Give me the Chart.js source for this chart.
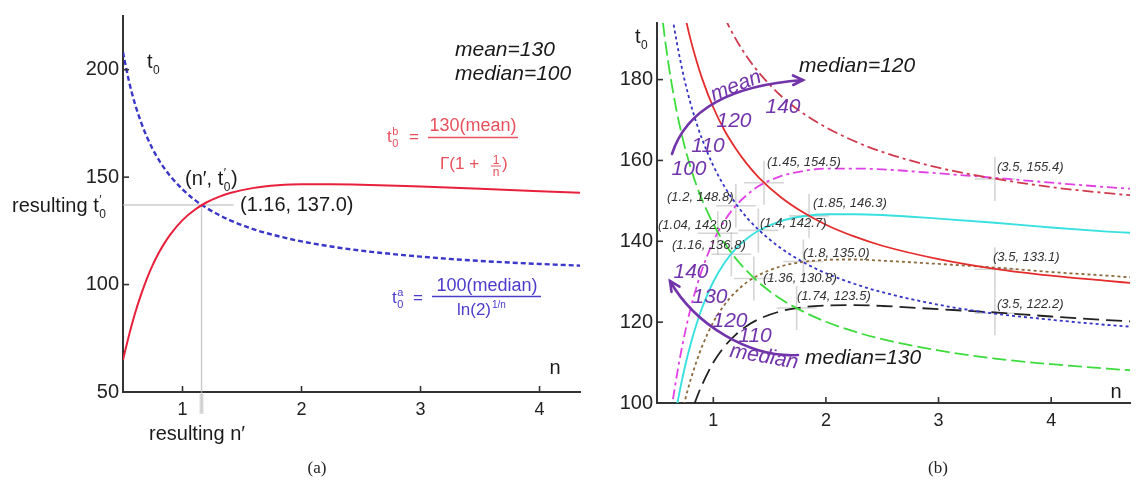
<!DOCTYPE html>
<html>
<head>
<meta charset="utf-8">
<script src="https://cdn.jsdelivr.net/npm/chart.js@4.4.1/dist/chart.umd.min.js"></script>
<style>
  html, body { margin: 0; padding: 0; background: #fff; }
  #wrap { position: relative; width: 1136px; height: 486px; background: #fff; }
  canvas { position: absolute; top: 0; }
  #chartA { left: 0; }
  #chartB { left: 600px; }
</style>
</head>
<body>
<div id="wrap">
  <canvas id="chartA" width="600" height="486"></canvas>
  <canvas id="chartB" width="536" height="486"></canvas>
</div>
<script>
// Shape parameter n at which every curve is sampled
const shapeN = [0.5, 0.55, 0.6, 0.65, 0.7, 0.75, 0.8, 0.85, 0.9, 1.0, 1.1, 1.2, 1.3, 1.4, 1.6, 1.8, 2.0, 2.25, 2.5, 3.0, 3.5, 4.0, 4.5, 4.7];

// Scale t0 fixed by a given median
const median100 = [208.1, 194.7, 184.2, 175.8, 168.8, 163.0, 158.1, 153.9, 150.3, 144.3, 139.5, 135.7, 132.6, 129.9, 125.7, 122.6, 120.1, 117.7, 115.8, 113.0, 111.0, 109.6, 108.5, 108.1];
const median110 = [229.0, 214.2, 202.6, 193.3, 185.7, 179.3, 173.9, 169.3, 165.3, 158.7, 153.5, 149.3, 145.8, 142.9, 138.3, 134.8, 132.1, 129.5, 127.4, 124.3, 122.1, 120.6, 119.3, 118.9];
const median120 = [249.8, 233.7, 221.0, 210.9, 202.6, 195.6, 189.7, 184.7, 180.3, 173.1, 167.4, 162.9, 159.1, 155.9, 150.9, 147.1, 144.1, 141.2, 138.9, 135.6, 133.2, 131.5, 130.2, 129.7];
const median140 = [291.4, 272.6, 257.9, 246.1, 236.3, 228.2, 221.4, 215.5, 210.4, 202.0, 195.4, 190.0, 185.6, 181.9, 176.0, 171.6, 168.2, 164.8, 162.1, 158.2, 155.5, 153.4, 151.9, 151.4];

// Scale t0 fixed by a given mean
const mean110 = [55.0, 64.6, 73.1, 80.5, 86.9, 92.4, 97.1, 101.1, 104.5, 110.0, 114.0, 116.9, 119.1, 120.7, 122.7, 123.7, 124.1, 124.2, 124.0, 123.2, 122.4, 121.4, 120.5, 120.2];
const mean120 = [60.0, 70.5, 79.7, 87.8, 94.8, 100.8, 105.9, 110.2, 114.0, 120.0, 124.3, 127.5, 129.9, 131.6, 133.8, 134.9, 135.4, 135.5, 135.2, 134.4, 133.5, 132.4, 131.5, 131.1];
const mean130 = [65.0, 76.3, 86.4, 95.1, 102.7, 109.2, 114.7, 119.4, 123.5, 130.0, 134.7, 138.2, 140.7, 142.6, 145.0, 146.2, 146.7, 146.7, 146.5, 145.6, 144.6, 143.4, 142.4, 142.1];
const mean140 = [70.0, 82.2, 93.0, 102.4, 110.6, 117.6, 123.6, 128.6, 133.0, 140.0, 145.1, 148.8, 151.5, 153.6, 156.1, 157.4, 158.0, 158.0, 157.8, 156.8, 155.7, 154.5, 153.4, 153.0];

// Axis ticks
const ticksNA = [1, 2, 3, 4];
const ticksTA = [50, 100, 150, 200];
const ticksNB = [1, 2, 3, 4];
const ticksTB = [100, 120, 140, 160, 180];

// Resulting (n', t0') for mean=130, median=100
const resultA = [1.16, 137.0];

// Crossings of mean and median curves in panel (b)
const crossingsB = [
  [1.2, 148.8], [1.45, 154.5], [1.85, 146.3], [1.04, 142.0], [1.4, 142.7], [1.16, 136.8],
  [1.8, 135.0], [1.36, 130.8], [1.74, 123.5], [3.5, 155.4], [3.5, 133.1], [3.5, 122.2]
];
// where each crossing label sits (left x, middle y, canvas pixels)
const crossLabelAt = [
  [67, 197], [167, 162], [213, 203], [58, 225], [160, 223], [72, 245],
  [203, 253], [163, 278], [197, 296], [397, 167], [393, 257], [397, 304]
];

const FAM = '"Liberation Sans", Arial, Helvetica, sans-serif';
const font = (size, italic) => (italic ? 'italic ' : '') + size + 'px ' + FAM;
const pts = vals => shapeN.map((n, i) => ({ x: n, y: vals[i] }));

function put(ctx, s, x, y, f, color, align, base) {
  ctx.font = f;
  ctx.fillStyle = color;
  ctx.textAlign = align || 'left';
  ctx.textBaseline = base || 'alphabetic';
  ctx.fillText(s, x, y);
  return ctx.measureText(s).width;
}

// "t" with stacked superscript / subscript
function tSym(ctx, x, y, size, sup, sub, color, italic) {
  const w = put(ctx, 't', x, y, font(size, italic), color);
  const small = Math.round(size * 0.62);
  let w2 = 0;
  if (sup) w2 = Math.max(w2, put(ctx, sup, x + w + 0.5, y - size * 0.42, font(small), color));
  if (sub) w2 = Math.max(w2, put(ctx, sub, x + w + 0.5, y + size * 0.28, font(small), color));
  return x + w + w2 + 1;
}

function hline(ctx, x1, x2, y, color, lw) {
  ctx.strokeStyle = color; ctx.lineWidth = lw;
  ctx.beginPath(); ctx.moveTo(x1, y); ctx.lineTo(x2, y); ctx.stroke();
}

// tick marks pointing into the plot
const inwardTicks = {
  id: 'inwardTicks',
  afterDraw(chart) {
    const { ctx, chartArea: ca, scales: { x, y } } = chart;
    ctx.save();
    ctx.strokeStyle = '#333'; ctx.lineWidth = 1.6;
    x.ticks.forEach(t => {
      const p = x.getPixelForValue(t.value);
      ctx.beginPath(); ctx.moveTo(p, ca.bottom); ctx.lineTo(p, ca.bottom - 6); ctx.stroke();
    });
    y.ticks.forEach(t => {
      const p = y.getPixelForValue(t.value);
      ctx.beginPath(); ctx.moveTo(ca.left, p); ctx.lineTo(ca.left + 6, p); ctx.stroke();
    });
    ctx.restore();
  }
};

function axisCfg(min, max, tickVals, fitSize, horizontal, tickSize, pad) {
  return {
    type: 'linear', min, max,
    grid: { display: false, drawTicks: false },
    border: { display: true, color: '#333', width: 2 },
    afterBuildTicks: s => { s.ticks = tickVals.map(v => ({ value: v })); },
    afterFit: s => { if (horizontal) s.height = fitSize; else s.width = fitSize; },
    ticks: { font: { family: FAM, size: tickSize }, color: '#222', padding: pad, maxRotation: 0, autoSkip: false }
  };
}

function line(data, color, width, dash) {
  return {
    data: pts(data), borderColor: color, borderWidth: width, borderDash: dash || [],
    pointRadius: 0, fill: false, cubicInterpolationMode: 'monotone'
  };
}

// ---------- panel (a) ----------
const annotA = {
  id: 'annotA',
  beforeDatasetsDraw(chart) {
    const { ctx, chartArea: ca, scales: { x, y } } = chart;
    const px = x.getPixelForValue(resultA[0]), py = y.getPixelForValue(resultA[1]);
    ctx.save();
    hline(ctx, ca.left, px + 32, py, 'rgba(185,185,185,0.75)', 1.4);
    ctx.beginPath(); ctx.moveTo(px, py); ctx.lineTo(px, ca.bottom + 20); ctx.stroke();
    ctx.strokeStyle = 'rgba(205,205,205,0.7)'; ctx.lineWidth = 4;
    ctx.beginPath(); ctx.moveTo(px, ca.bottom + 2); ctx.lineTo(px, ca.bottom + 22); ctx.stroke();
    ctx.restore();
  },
  afterDraw(chart) {
    const { ctx } = chart;
    const ink = '#1a1a1a';
    ctx.save();
    tSym(ctx, 147, 68, 20, null, '0', ink);
    put(ctx, 'mean=130', 455, 56, font(21, true), ink);
    put(ctx, 'median=100', 455, 80, font(21, true), ink);

    // labels of the resulting point
    let xx = put(ctx, '(n\u2032, ', 185, 185, font(20), ink) + 185;
    xx = tSym(ctx, xx, 185, 20, '\u2032', '0', ink);
    put(ctx, ')', xx, 185, font(20), ink);
    put(ctx, '(' + resultA[0] + ', ' + resultA[1].toFixed(1) + ')', 240, 211, font(20), ink);
    xx = put(ctx, 'resulting ', 12, 212, font(20), ink) + 12;
    tSym(ctx, xx, 212, 20, '\u2032', '0', ink);
    put(ctx, 'resulting n\u2032', 149, 440, font(20), ink);
    put(ctx, 'n', 555, 374, font(20), ink, 'center');

    // mean formula
    const red = '#e8505c';
    tSym(ctx, 387, 142, 17, 'b', '0', red);
    put(ctx, '=', 409, 142, font(17), red);
    hline(ctx, 428, 518, 137.5, red, 1.3);
    put(ctx, '130(mean)', 473, 131, font(18), red, 'center');
    put(ctx, '\u0393(1 + ', 440, 169, font(17), red);
    put(ctx, '1', 496, 164, font(12), red, 'center');
    hline(ctx, 491, 501, 166, red, 1);
    put(ctx, 'n', 496, 176, font(12), red, 'center');
    put(ctx, ')', 502, 169, font(17), red);

    // median formula
    const blue = '#4b3ccc';
    tSym(ctx, 392, 303, 17, 'a', '0', blue);
    put(ctx, '=', 413, 303, font(17), blue);
    hline(ctx, 432, 541, 296.5, blue, 1.3);
    put(ctx, '100(median)', 487, 291, font(18), blue, 'center');
    const lw = put(ctx, 'ln(2)', 457, 315, font(17), blue);
    put(ctx, '1/n', 457 + lw + 1, 308, font(10), blue);

    put(ctx, '(a)', 317, 473, '17px "Liberation Serif", "DejaVu Serif", serif', '#222', 'center');
    ctx.restore();
  }
};

new Chart(document.getElementById('chartA'), {
  type: 'line',
  data: {
    datasets: [
      line(mean130, '#e8203c', 2),
      line(median100, '#3a36c8', 2.4, [5, 3])
    ]
  },
  options: {
    responsive: false, animation: false, devicePixelRatio: 1,
    layout: { padding: { left: 0, right: 20, top: 13, bottom: 0 } },
    plugins: { legend: { display: false }, tooltip: { enabled: false } },
    scales: {
      x: axisCfg(0.5, 4.34, ticksNA, 94, true, 18, 7),
      y: axisCfg(50, 225, ticksTA, 123, false, 20, 4)
    }
  },
  plugins: [annotA, inwardTicks]
});

// ---------- panel (b) ----------
const purple = '#7234aa';
function arrowHead(ctx, tip, from) {
  const ang = Math.atan2(tip[1] - from[1], tip[0] - from[0]);
  const L = 11, s = 0.45;
  ctx.beginPath();
  ctx.moveTo(tip[0] - L * Math.cos(ang - s), tip[1] - L * Math.sin(ang - s));
  ctx.lineTo(tip[0], tip[1]);
  ctx.lineTo(tip[0] - L * Math.cos(ang + s), tip[1] - L * Math.sin(ang + s));
  ctx.stroke();
}
function rotText(ctx, s, x, y, deg, f, color) {
  ctx.save();
  ctx.translate(x, y); ctx.rotate(deg * Math.PI / 180);
  put(ctx, s, 0, 0, f, color, 'center', 'middle');
  ctx.restore();
}

const annotB = {
  id: 'annotB',
  beforeDatasetsDraw(chart) {
    const { ctx, scales: { x, y } } = chart;
    ctx.save();
    ctx.strokeStyle = 'rgba(185,185,185,0.6)'; ctx.lineWidth = 1.6;
    crossingsB.forEach(([n, t]) => {
      const px = x.getPixelForValue(n), py = y.getPixelForValue(t);
      ctx.beginPath();
      ctx.moveTo(px - 20, py); ctx.lineTo(px + 20, py);
      ctx.moveTo(px, py - 22); ctx.lineTo(px, py + 22);
      ctx.stroke();
    });
    ctx.restore();
  },
  afterDraw(chart) {
    const { ctx } = chart;
    const ink = '#1a1a1a';
    ctx.save();
    tSym(ctx, 35, 43, 20, null, '0', ink);
    put(ctx, 'n', 516, 398, font(20), ink, 'center');
    put(ctx, 'median=120', 199, 72, font(21, true), ink);
    put(ctx, 'median=130', 205, 364, font(21, true), ink);

    crossingsB.forEach(([n, t], i) => {
      const [lx, ly] = crossLabelAt[i];
      put(ctx, '(' + n + ', ' + t.toFixed(1) + ')', lx, ly, font(13, true), '#333', 'left', 'middle');
    });

    // arrow across the median curves
    ctx.strokeStyle = purple; ctx.lineWidth = 2.6; ctx.lineCap = 'round';
    ctx.beginPath(); ctx.moveTo(72, 154); ctx.quadraticCurveTo(93, 88, 203, 80); ctx.stroke();
    arrowHead(ctx, [203, 80], [160, 81]);
    rotText(ctx, 'mean', 136, 86, -22, font(21, true), purple);
    put(ctx, '100', 89, 169, font(21, true), purple, 'center', 'middle');
    put(ctx, '110', 108, 146, font(21, true), purple, 'center', 'middle');
    put(ctx, '120', 134, 121, font(21, true), purple, 'center', 'middle');
    put(ctx, '140', 183, 107, font(21, true), purple, 'center', 'middle');

    // arrow across the mean curves
    ctx.beginPath(); ctx.moveTo(198, 355); ctx.bezierCurveTo(150, 358, 95, 325, 70, 281); ctx.stroke();
    arrowHead(ctx, [70, 281], [84, 302]);
    rotText(ctx, 'median', 164, 357, 10, font(21, true), purple);
    put(ctx, '140', 91, 272, font(21, true), purple, 'center', 'middle');
    put(ctx, '130', 110, 297, font(21, true), purple, 'center', 'middle');
    put(ctx, '120', 130, 321, font(21, true), purple, 'center', 'middle');
    put(ctx, '110', 155, 336, font(21, true), purple, 'center', 'middle');

    put(ctx, '(b)', 338, 473, '17px "Liberation Serif", "DejaVu Serif", serif', '#222', 'center');
    ctx.restore();
  }
};

new Chart(document.getElementById('chartB'), {
  type: 'line',
  data: {
    datasets: [
      line(median100, '#3ddc3d', 1.8, [14, 5]),
      line(median110, '#3333c8', 1.8, [3, 3]),
      line(median120, '#e42c2c', 1.8),
      line(median140, '#cf3a4e', 1.8, [11, 4, 3, 4]),
      line(mean110, '#222222', 1.8, [16, 7]),
      line(mean120, '#8c6a3c', 1.8, [3, 3]),
      line(mean130, '#38e0e0', 1.9),
      line(mean140, '#e040e4', 1.8, [10, 4, 3, 4])
    ]
  },
  options: {
    responsive: false, animation: false, devicePixelRatio: 1,
    layout: { padding: { left: 0, right: 6, top: 23, bottom: 0 } },
    plugins: { legend: { display: false }, tooltip: { enabled: false } },
    scales: {
      x: axisCfg(0.5, 4.7, ticksNB, 83, true, 18, 7),
      y: axisCfg(100, 194, ticksTB, 57, false, 20, 4)
    }
  },
  plugins: [annotB, inwardTicks]
});
</script>
</body>
</html>
